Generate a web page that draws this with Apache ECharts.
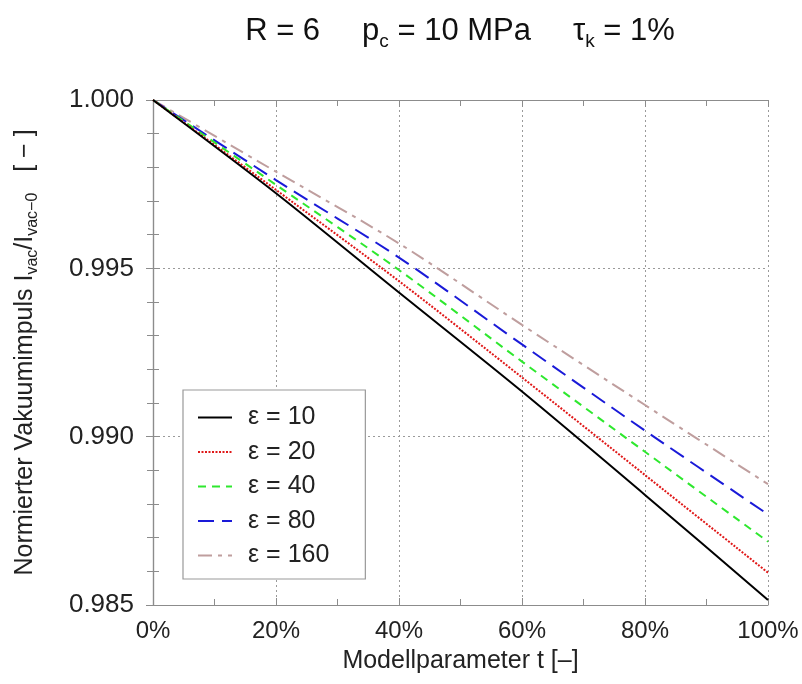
<!DOCTYPE html>
<html>
<head>
<meta charset="utf-8">
<script src="https://cdn.jsdelivr.net/npm/echarts@6/dist/echarts.min.js"></script>
<style>
  html, body { margin: 0; padding: 0; background: #fff; }
  #chart { width: 802px; height: 684px; }
</style>
</head>
<body>
<div id="chart"></div>
<script>
// Modellparameter t in %
const tValues = [0, 20, 40, 60, 80, 100]
const seriesNames = ['ε = 10', 'ε = 20', 'ε = 40', 'ε = 80', 'ε = 160']
// Normierter Vakuumimpuls, one array per epsilon
const eps10 = [1.0, 0.99723, 0.99428, 0.99134, 0.98827, 0.98515]
const eps20 = [1.0, 0.99733, 0.99462, 0.99176, 0.98886, 0.98596]
const eps40 = [1.0, 0.99748, 0.99495, 0.99223, 0.98955, 0.98688]
const eps80 = [1.0, 0.99762, 0.99532, 0.99274, 0.99018, 0.98769]
const eps160 = [1.0, 0.99787, 0.99574, 0.99332, 0.99094, 0.98859]
const yTicks = [0.985, 0.990, 0.995, 1.000]
const xTicks = [0, 20, 40, 60, 80, 100]

const allValues = [eps10, eps20, eps40, eps80, eps160]
const colors = ['#000000', '#e01818', '#2ee82e', '#1a1ad8', '#bf9e9e']
const dashes = ['solid', [2, 1.5], [8, 6], [16, 8], [14, 6, 4, 6]]

const font = 'Liberation Sans, Arial, sans-serif'
const frameColor = '#8c8c8c'

const axisBase = {
  axisLine: { show: true, lineStyle: { color: frameColor, width: 1.2 } },
  axisTick: { show: true, inside: true, length: 7, lineStyle: { color: frameColor } },
  minorTick: { show: true, length: 6, lineStyle: { color: frameColor } }
}

const series = allValues.map((vals, i) => ({
  name: seriesNames[i],
  type: 'line',
  smooth: 0.3,
  symbol: 'none',
  data: tValues.map((t, k) => [t, vals[k]]),
  lineStyle: { color: colors[i], width: 2, type: dashes[i] },
  itemStyle: { color: colors[i] },
  z: 10 - i
}))

const chart = echarts.init(document.getElementById('chart'))
chart.setOption({
  animation: false,
  backgroundColor: '#fff',
  title: {
    text: '{n|R = 6}{g| }{n|p}{s|c}{n| = 10 MPa}{g| }{n|τ}{s|k}{n| = 1%}',
    left: 455,
    top: 6,
    textAlign: 'center',
    textStyle: {
      fontWeight: 'normal',
      rich: {
        n: { fontFamily: font, fontSize: 31, fontWeight: 'normal', color: '#111', lineHeight: 40 },
        s: { fontFamily: font, fontSize: 19, fontWeight: 'normal', color: '#111', lineHeight: 22, verticalAlign: 'bottom' },
        g: { width: 42, fontSize: 31, lineHeight: 40 }
      }
    }
  },
  grid: { left: 153, right: 34, top: 100, bottom: 79, show: false },
  legend: {
    orient: 'vertical',
    left: 183,
    top: 390,
    data: seriesNames,
    itemWidth: 34,
    itemHeight: 14,
    itemGap: 9.5,
    padding: [15, 36, 11, 14],
    borderColor: '#999',
    borderWidth: 1.2,
    backgroundColor: '#fff',
    itemStyle: { opacity: 0 },
    textStyle: { fontFamily: font, fontSize: 25, color: '#222', padding: [0, 0, 0, 11] }
  },
  xAxis: [
    {
      ...axisBase,
      type: 'value',
      min: xTicks[0],
      max: xTicks[xTicks.length - 1],
      interval: 20,
      minorTick: { ...axisBase.minorTick, splitNumber: 2 },
      name: 'Modellparameter t [–]',
      nameLocation: 'middle',
      nameGap: 44,
      nameTextStyle: { fontFamily: font, fontSize: 25, color: '#222' },
      axisLabel: { formatter: '{value}%', fontFamily: font, fontSize: 24, color: '#222', margin: 14 },
      splitLine: { show: true, lineStyle: { color: '#9a9a9a', type: [2, 3], width: 1 } }
    },
    {
      ...axisBase,
      type: 'value',
      position: 'top',
      min: xTicks[0],
      max: xTicks[xTicks.length - 1],
      interval: 20,
      minorTick: { ...axisBase.minorTick, splitNumber: 2 },
      axisLabel: { show: false },
      splitLine: { show: false }
    }
  ],
  yAxis: [
    {
      ...axisBase,
      type: 'value',
      min: yTicks[0],
      max: yTicks[yTicks.length - 1],
      interval: 0.005,
      minorTick: { ...axisBase.minorTick, splitNumber: 5 },
      name: '{n|Normierter Vakuumimpuls I}{s|vac}{n|/I}{s|vac−0}{n|   [ − ]}',
      nameLocation: 'middle',
      nameGap: 112,
      nameRotate: 90,
      nameTextStyle: {
        rich: {
          n: { fontFamily: font, fontSize: 25, color: '#222', lineHeight: 32 },
          s: { fontFamily: font, fontSize: 16, color: '#222', lineHeight: 18, verticalAlign: 'bottom' }
        }
      },
      axisLabel: {
        formatter: v => v.toFixed(3),
        fontFamily: font, fontSize: 26, color: '#222', margin: 19
      },
      splitLine: { show: true, lineStyle: { color: '#9a9a9a', type: [2, 3], width: 1 } }
    },
    {
      ...axisBase,
      type: 'value',
      position: 'right',
      min: yTicks[0],
      max: yTicks[yTicks.length - 1],
      interval: 0.005,
      minorTick: { ...axisBase.minorTick, splitNumber: 5 },
      axisLabel: { show: false },
      splitLine: { show: false }
    }
  ],
  series: series
})
</script>
</body>
</html>
